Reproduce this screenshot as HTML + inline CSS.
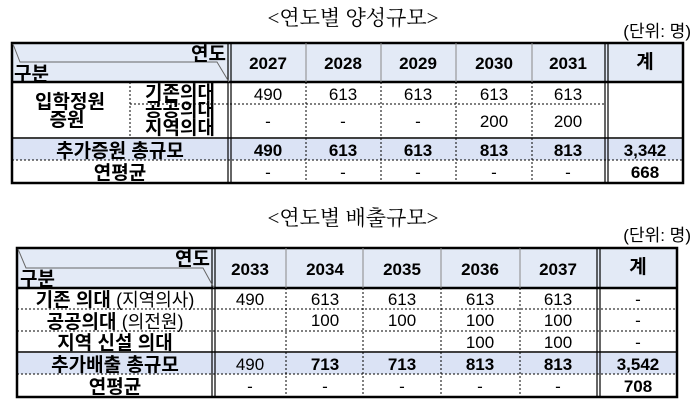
<!DOCTYPE html>
<html><head><meta charset="utf-8"><style>
html,body{margin:0;padding:0;background:#fff;}
svg{display:block}
text{font-family:"Liberation Sans","Noto Sans CJK KR",sans-serif;}
.b{font-weight:bold;font-size:17px;fill:#000;}
.k{font-weight:bold;font-size:19px;fill:#000;}
.n{font-size:17px;fill:#000;}
.nk{font-size:18px;fill:#000;}
.t{font-family:"Liberation Serif","Noto Serif CJK SC",serif;font-size:21px;}
.u{font-size:17px;}
</style></head><body>
<svg width="700" height="406" viewBox="0 0 700 406" xmlns="http://www.w3.org/2000/svg">
<text class="t" x="353" y="25" text-anchor="middle">&lt;연도별 양성규모&gt;</text>
<text class="u" x="691" y="37" text-anchor="end">(단위: 명)</text>
<!-- table 1 -->
<rect x="12" y="43" width="671" height="39" fill="#e3eaf6"/>
<rect x="12" y="139" width="671" height="21" fill="#dbe3f5"/>
<g stroke="#000" fill="none">
<rect x="12" y="43" width="671" height="140" stroke-width="2.5"/>
<line x1="12" y1="82" x2="683" y2="82" stroke-width="2.5"/>
<line x1="228" y1="43" x2="228" y2="183" stroke-width="1.2"/>
<line x1="231" y1="43" x2="231" y2="183" stroke-width="1.2"/>
<line x1="605" y1="43" x2="605" y2="183" stroke-width="1.2"/>
<line x1="608" y1="43" x2="608" y2="183" stroke-width="1.2"/>
<line x1="12" y1="138" x2="683" y2="138" stroke-width="1.5"/>
</g>
<g stroke="#888" stroke-width="1">
<line x1="306" y1="43" x2="306" y2="82"/><line x1="381" y1="43" x2="381" y2="82"/>
<line x1="456" y1="43" x2="456" y2="82"/><line x1="532" y1="43" x2="532" y2="82"/>
</g>
<g stroke="#000" stroke-width="1" stroke-dasharray="2,2">
<line x1="306" y1="82" x2="306" y2="183"/><line x1="381" y1="82" x2="381" y2="183"/>
<line x1="456" y1="82" x2="456" y2="183"/><line x1="532" y1="82" x2="532" y2="183"/>
<line x1="130" y1="82" x2="130" y2="138"/>
<line x1="130" y1="104" x2="605" y2="104"/>
<line x1="12" y1="160" x2="683" y2="160"/>
</g>
<polyline points="13,44 20,62 217,62 229,82" fill="none" stroke="#666" stroke-width="1"/>
<text class="k" x="226" y="60" text-anchor="end">연도</text>
<text class="k" x="14" y="80">구분</text>
<g class="b" text-anchor="middle">
<text x="268" y="69">2027</text><text x="343" y="69">2028</text><text x="418" y="69">2029</text><text x="494" y="69">2030</text><text x="568" y="69">2031</text>
<text x="268" y="156">490</text><text x="343" y="156">613</text><text x="418" y="156">613</text><text x="494" y="156">813</text><text x="568" y="156">813</text><text x="645" y="156">3,342</text>
<text x="645" y="178">668</text>
</g>
<g class="k" text-anchor="middle">
<text x="645" y="68">계</text>
<text x="70" y="108">입학정원</text><text x="67" y="126">증원</text>
<text x="180" y="99">기존의대</text><text x="180" y="116">공공의대</text><text x="180" y="134">지역의대</text>
<text x="120" y="157">추가증원 총규모</text>
<text x="120" y="179">연평균</text>
</g>
<g class="n" text-anchor="middle">
<text x="268" y="100">490</text><text x="343" y="100">613</text><text x="418" y="100">613</text><text x="494" y="100">613</text><text x="568" y="100">613</text>
<text x="268" y="127">-</text><text x="343" y="127">-</text><text x="418" y="127">-</text><text x="494" y="127">200</text><text x="568" y="127">200</text>
<text x="268" y="178">-</text><text x="343" y="178">-</text><text x="418" y="178">-</text><text x="494" y="178">-</text><text x="568" y="178">-</text>
</g>

<text class="t" x="353" y="225" text-anchor="middle">&lt;연도별 배출규모&gt;</text>
<text class="u" x="691" y="241" text-anchor="end">(단위: 명)</text>
<!-- table 2 -->
<rect x="17" y="248" width="660" height="40" fill="#e3eaf6"/>
<rect x="17" y="353" width="660" height="21" fill="#dbe3f5"/>
<g stroke="#000" fill="none">
<rect x="17" y="248" width="660" height="149" stroke-width="2.5"/>
<line x1="17" y1="288" x2="677" y2="288" stroke-width="2.5"/>
<line x1="212" y1="248" x2="212" y2="397" stroke-width="1.2"/>
<line x1="215" y1="248" x2="215" y2="397" stroke-width="1.2"/>
<line x1="597" y1="248" x2="597" y2="397" stroke-width="1.2"/>
<line x1="600" y1="248" x2="600" y2="397" stroke-width="1.2"/>
<line x1="17" y1="352" x2="677" y2="352" stroke-width="1.5"/>
</g>
<g stroke="#888" stroke-width="1">
<line x1="286" y1="248" x2="286" y2="288"/><line x1="363" y1="248" x2="363" y2="288"/>
<line x1="441" y1="248" x2="441" y2="288"/><line x1="520" y1="248" x2="520" y2="288"/>
</g>
<g stroke="#000" stroke-width="1" stroke-dasharray="2,2">
<line x1="286" y1="288" x2="286" y2="397"/><line x1="363" y1="288" x2="363" y2="397"/>
<line x1="441" y1="288" x2="441" y2="397"/><line x1="520" y1="288" x2="520" y2="397"/>
<line x1="17" y1="309" x2="677" y2="309"/>
<line x1="17" y1="331" x2="677" y2="331"/>
<line x1="17" y1="374" x2="677" y2="374"/>
</g>
<polyline points="18,249 26,268 203,268 214,288" fill="none" stroke="#666" stroke-width="1"/>
<text class="k" x="210" y="265" text-anchor="end">연도</text>
<text class="k" x="20" y="285">구분</text>
<g class="b" text-anchor="middle">
<text x="250" y="275">2033</text><text x="325" y="275">2034</text><text x="402" y="275">2035</text><text x="480" y="275">2036</text><text x="558" y="275">2037</text>
<text x="325" y="370">713</text><text x="402" y="370">713</text><text x="480" y="370">813</text><text x="558" y="370">813</text><text x="638" y="370">3,542</text>
<text x="638" y="392">708</text>
</g>
<g class="k" text-anchor="middle">
<text x="638" y="273">계</text>
<text x="115" y="371">추가배출 총규모</text>
<text x="115" y="393">연평균</text>
<text x="115" y="349">지역 신설 의대</text>
</g>
<text x="115" y="306" text-anchor="middle"><tspan class="k">기존 의대 </tspan><tspan class="nk">(지역의사)</tspan></text>
<text x="115" y="328" text-anchor="middle"><tspan class="k">공공의대 </tspan><tspan class="nk">(의전원)</tspan></text>
<g class="n" text-anchor="middle">
<text x="250" y="305">490</text><text x="325" y="305">613</text><text x="402" y="305">613</text><text x="480" y="305">613</text><text x="558" y="305">613</text><text x="638" y="305">-</text>
<text x="325" y="326">100</text><text x="402" y="326">100</text><text x="480" y="326">100</text><text x="558" y="326">100</text><text x="638" y="326">-</text>
<text x="480" y="348">100</text><text x="558" y="348">100</text><text x="638" y="348">-</text>
<text x="250" y="370">490</text>
<text x="250" y="392">-</text><text x="325" y="392">-</text><text x="402" y="392">-</text><text x="480" y="392">-</text><text x="558" y="392">-</text>
</g>
</svg>
</body></html>
